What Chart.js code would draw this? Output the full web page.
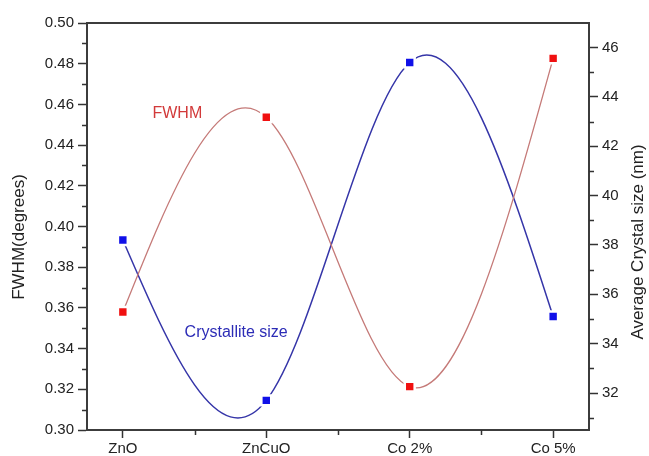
<!DOCTYPE html>
<html>
<head>
<meta charset="utf-8">
<script src="https://cdn.jsdelivr.net/npm/chart.js@4.4.1/dist/chart.umd.min.js"></script>
<style>
    html, body { margin: 0; padding: 0; background: #fff; }
</style>
</head>
<body>
<canvas id="grafico" width="649" height="456"></canvas>
<script>
const muestras = ['ZnO', 'ZnCuO', 'Co 2%', 'Co 5%'];
const fwhm = [0.358, 0.4537, 0.3213, 0.4826];
const tamano = [38.2, 31.7, 45.4, 35.1];

const ticksFwhm = [0.30, 0.32, 0.34, 0.36, 0.38, 0.40, 0.42, 0.44, 0.46, 0.48, 0.50];
const menoresFwhm = [0.31, 0.33, 0.35, 0.37, 0.39, 0.41, 0.43, 0.45, 0.47, 0.49];
const ticksTamano = [32, 34, 36, 38, 40, 42, 44, 46];
const menoresTamano = [31, 33, 35, 37, 39, 41, 43, 45];
const menoresX = [0.5, 1.5, 2.5];

const etiquetas = [
    { texto: 'FWHM', x: 0.38, y: 0.4555, color: '#d23a3a' },
    { texto: 'Crystallite size', x: 0.79, y: 0.3477, color: '#2c2cb6' }
];

const fuente = "'Liberation Sans', Arial, sans-serif";

// pendientes de un spline natural (parametro uniforme)
function pendientesNaturales(v) {
    const n = v.length;
    const b = [], c = [], d = [];
    for (let i = 0; i < n; i++) {
        if (i === 0) { b.push(2); c.push(1); d.push(3 * (v[1] - v[0])); }
        else if (i === n - 1) { b.push(2); c.push(0); d.push(3 * (v[n - 1] - v[n - 2])); }
        else { b.push(4); c.push(1); d.push(3 * (v[i + 1] - v[i - 1])); }
    }
    for (let i = 1; i < n; i++) {
        const m = 1 / b[i - 1];
        b[i] -= m * c[i - 1];
        d[i] -= m * d[i - 1];
    }
    const D = new Array(n);
    D[n - 1] = d[n - 1] / b[n - 1];
    for (let i = n - 2; i >= 0; i--) D[i] = (d[i] - c[i] * D[i + 1]) / b[i];
    return D;
}

const splineNatural = {
    id: 'splineNatural',
    beforeDatasetDraw(chart, args) {
        const meta = args.meta;
        const linea = meta.dataset;
        const puntos = meta.data;
        if (!linea || puntos.length < 3) return;
        linea.updateControlPoints(chart.chartArea, meta.iScale.axis);
        const dx = pendientesNaturales(puntos.map(p => p.x));
        const dy = pendientesNaturales(puntos.map(p => p.y));
        puntos.forEach((p, i) => {
            p.cp1x = p.x - dx[i] / 3;
            p.cp1y = p.y - dy[i] / 3;
            p.cp2x = p.x + dx[i] / 3;
            p.cp2y = p.y + dy[i] / 3;
        });
        linea._path = undefined;
    }
};

const decoracion = {
    id: 'decoracion',
    afterDraw(chart) {
        const ctx = chart.ctx;
        const area = chart.chartArea;
        const sx = chart.scales.x, sy = chart.scales.y, sy1 = chart.scales.y1;

        ctx.save();
        ctx.strokeStyle = '#3c3c3c';
        ctx.lineWidth = 2;
        ctx.beginPath();
        ctx.moveTo(area.left - 1, area.top);
        ctx.lineTo(area.right + 1, area.top);
        ctx.stroke();

        ctx.strokeStyle = '#333';
        ctx.lineWidth = 1.5;
        ctx.beginPath();
        menoresFwhm.forEach(v => {
            const py = Math.round(sy.getPixelForValue(v)) + 0.5;
            ctx.moveTo(area.left - 5, py);
            ctx.lineTo(area.left, py);
        });
        menoresTamano.forEach(v => {
            const py = Math.round(sy1.getPixelForValue(v)) + 0.5;
            ctx.moveTo(area.right, py);
            ctx.lineTo(area.right + 5, py);
        });
        menoresX.forEach(v => {
            const px = Math.round(sx.getPixelForValue(v)) + 0.5;
            ctx.moveTo(px, area.bottom);
            ctx.lineTo(px, area.bottom + 5);
        });
        ctx.stroke();

        ctx.textAlign = 'center';
        ctx.textBaseline = 'middle';
        ctx.font = '16px ' + fuente;
        etiquetas.forEach(e => {
            ctx.fillStyle = e.color;
            ctx.fillText(e.texto, sx.getPixelForValue(e.x), sy.getPixelForValue(e.y));
        });

        ctx.fillStyle = '#222';
        ctx.font = '17px ' + fuente;
        ctx.save();
        ctx.translate(19, 237);
        ctx.rotate(-Math.PI / 2);
        ctx.fillText('FWHM(degrees)', 0, 0);
        ctx.restore();
        ctx.save();
        ctx.translate(638, 242);
        ctx.rotate(-Math.PI / 2);
        ctx.fillText('Average Crystal size (nm)', 0, 0);
        ctx.restore();
        ctx.restore();
    }
};

function sinPadding(scale) {
    scale.paddingTop = 0;
    scale.paddingBottom = 0;
    scale.paddingLeft = 0;
    scale.paddingRight = 0;
}

const ejeComun = {
    grid: { drawOnChartArea: false, drawTicks: true, tickLength: 9, tickColor: '#333', tickWidth: 1.5 },
    border: { color: '#3c3c3c', width: 2 }
};

new Chart(document.getElementById('grafico'), {
    type: 'line',
    data: {
        datasets: [{
            label: 'FWHM',
            data: fwhm.map((v, i) => ({ x: i, y: v })),
            yAxisID: 'y',
            borderColor: '#c57a78',
            borderWidth: 1.3,
            tension: 0.4,
            pointStyle: 'rect',
            pointRadius: 7,
            pointBackgroundColor: '#f01010',
            pointBorderColor: '#ffffff',
            pointBorderWidth: 2.5
        }, {
            label: 'Crystallite size',
            data: tamano.map((v, i) => ({ x: i, y: v })),
            yAxisID: 'y1',
            borderColor: '#3535a8',
            borderWidth: 1.5,
            tension: 0.4,
            pointStyle: 'rect',
            pointRadius: 7,
            pointBackgroundColor: '#1010e8',
            pointBorderColor: '#ffffff',
            pointBorderWidth: 2.5
        }]
    },
    options: {
        responsive: false,
        animation: false,
        layout: { padding: { top: 23, left: 0, right: 0, bottom: 0 } },
        plugins: { legend: { display: false }, tooltip: { enabled: false } },
        scales: {
            x: {
                type: 'linear',
                min: -0.25,
                max: 3.25,
                afterBuildTicks: s => { s.ticks = muestras.map((_, i) => ({ value: i })); },
                afterFit: s => { s.height = 26; sinPadding(s); },
                ticks: {
                    autoSkip: false, maxRotation: 0, padding: 2, color: '#222',
                    font: { family: fuente, size: 15 },
                    callback: v => muestras[v] ?? ''
                },
                grid: { drawOnChartArea: false, drawTicks: true, tickLength: 8, tickColor: '#333', tickWidth: 1.5 },
                border: ejeComun.border
            },
            y: {
                position: 'left',
                min: 0.30,
                max: 0.50,
                afterBuildTicks: s => { s.ticks = ticksFwhm.map(v => ({ value: v })); },
                afterFit: s => { s.width = 87; sinPadding(s); },
                ticks: {
                    padding: 4, color: '#222',
                    font: { family: fuente, size: 15 },
                    callback: v => v.toFixed(2)
                },
                grid: ejeComun.grid,
                border: ejeComun.border
            },
            y1: {
                position: 'right',
                min: 30.5,
                max: 47,
                afterBuildTicks: s => { s.ticks = ticksTamano.map(v => ({ value: v })); },
                afterFit: s => { s.width = 60; sinPadding(s); },
                ticks: {
                    padding: 4, color: '#222',
                    font: { family: fuente, size: 15 },
                    callback: v => String(v)
                },
                grid: ejeComun.grid,
                border: ejeComun.border
            }
        }
    },
    plugins: [splineNatural, decoracion]
});
</script>
</body>
</html>
